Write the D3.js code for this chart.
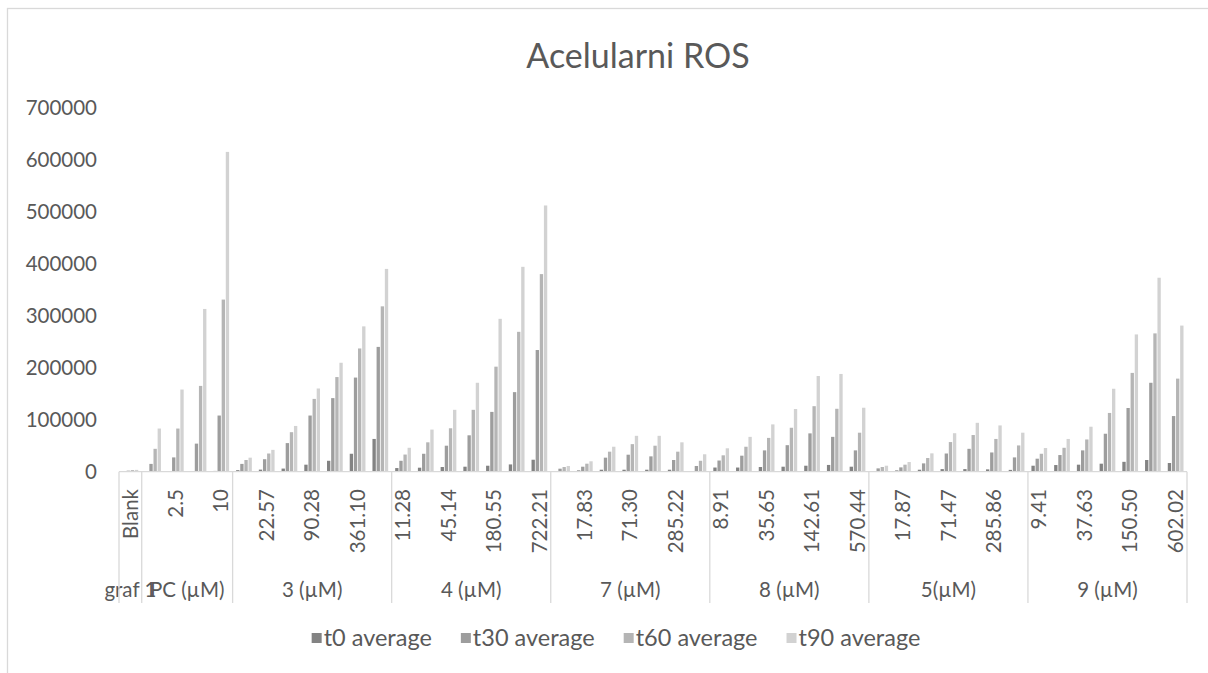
<!DOCTYPE html>
<html>
<head>
<meta charset="utf-8">
<script src="https://cdn.jsdelivr.net/npm/d3@7"></script>
<style>
  html, body { margin: 0; padding: 0; background: #fff; }
  svg { display: block; }
  text { font-family: Lato, "Open Sans", sans-serif; fill: #595959; }
</style>
</head>
<body>
<svg id="chart" width="1208" height="673"></svg>
<script>
// ---------------- data ----------------
const title = "Acelularni ROS";
const groupNames = ["graf 1", "PC (µM)", "3 (µM)", "4 (µM)", "7 (µM)", "8 (µM)", "5(µM)", "9 (µM)"];
const groupSizes = [1, 4, 7, 7, 7, 7, 7, 7];
const categories = [
  "Blank",
  "1.25", "2.5", "5", "10",
  "11.28", "22.57", "45.14", "90.28", "180.55", "361.10", "722.21",
  "11.28", "22.57", "45.14", "90.28", "180.55", "361.10", "722.21",
  "8.91", "17.83", "35.65", "71.30", "142.61", "285.22", "570.44",
  "8.91", "17.83", "35.65", "71.30", "142.61", "285.22", "570.44",
  "8.93", "17.87", "35.73", "71.47", "142.93", "285.86", "571.72",
  "9.41", "18.81", "37.63", "75.25", "150.50", "301.01", "602.02"
];
const seriesNames = ["t0 average", "t30 average", "t60 average", "t90 average"];
const t0 = [800, 500, 1000, 1000, 1500, 3000, 4000, 6000, 13500, 21000, 34500, 63000,
  7000, 7700, 9000, 9600, 11500, 14000, 23000,
  1200, 2500, 3800, 3800, 3800, 3800, 1300,
  8000, 8000, 9000, 9600, 11500, 13000, 9600,
  1300, 2500, 3800, 5000, 5000, 4500, 3500,
  11500, 12800, 13500, 15400, 19000, 22500, 16700];
const t30 = [2000, 15000, 27500, 54000, 108000, 15000, 24000, 55000, 108000, 141500, 181000, 240000,
  21000, 34500, 50000, 70000, 115000, 153000, 234000,
  5800, 9600, 27000, 32700, 29500, 22500, 11000,
  21500, 30800, 41000, 51000, 73700, 67000, 41000,
  6400, 8300, 16000, 35000, 44000, 37000, 27500,
  25000, 32000, 41000, 73000, 122500, 171000, 107000];
const t60 = [3000, 44000, 83000, 165000, 331000, 22500, 35000, 76000, 140000, 182000, 237000, 318000,
  33000, 56500, 83500, 119000, 202000, 269000, 380000,
  9000, 15400, 38500, 53000, 50000, 38500, 21000,
  31500, 48000, 65000, 84500, 126000, 121000, 75000,
  9000, 13500, 26300, 57000, 70500, 63000, 50500,
  34500, 46000, 62000, 113000, 190000, 266000, 179000];
const t90 = [3500, 83000, 158000, 313000, 615000, 27000, 42000, 88000, 160000, 209500, 279500, 390000,
  46000, 81000, 119000, 171000, 294000, 394000, 512000,
  11000, 20000, 48000, 69000, 69000, 56500, 33500,
  45000, 67000, 91000, 120500, 184000, 188000, 123000,
  11500, 18600, 35300, 74000, 94000, 89000, 75000,
  45500, 63000, 86500, 159500, 264000, 373000, 281000];
const yTicks = [0, 100000, 200000, 300000, 400000, 500000, 600000, 700000];
const colors = ["#838383", "#9d9d9d", "#b5b5b5", "#d2d2d2"];

// ---------------- layout ----------------
const svg = d3.select("#chart");
const plot = { left: 119, right: 1187, top: 107.7, bottom: 471.7 };
const fs = 20.5;
const legFs = 23.5;

svg.append("rect").attr("x", 7.5).attr("y", 8.5).attr("width", 1300).attr("height", 800)
  .attr("fill", "none").attr("stroke", "#d9d9d9").attr("stroke-width", 1.3);

svg.append("text").attr("x", 638).attr("y", 68).attr("text-anchor", "middle")
  .style("font-size", "34px").text(title);

const idx = d3.range(categories.length);
const x = d3.scaleBand().domain(idx).range([plot.left, plot.right])
  .paddingInner(1.5 / 5.5).paddingOuter(0.75 / 5.5);
const xs = d3.scaleBand().domain(d3.range(seriesNames.length)).range([0, x.bandwidth()]);
const y = d3.scaleLinear().domain([0, 700000]).range([plot.bottom, plot.top]);

// y axis (labels only)
const yAxis = d3.axisLeft(y).tickValues(yTicks).tickSize(0).tickPadding(0).tickFormat(d3.format("d"));
const yg = svg.append("g").attr("transform", `translate(97,0)`).call(yAxis);
yg.select(".domain").remove();
yg.selectAll("text").style("font-size", fs + "px").attr("fill", "#595959").attr("dy", "0.35em")
  .style("font-family", "Lato");

// bars
const series = [t0, t30, t60, t90];
series.forEach((vals, si) => {
  svg.append("g").selectAll("rect").data(vals).join("rect")
    .attr("x", (d, i) => x(i) + xs(si) + 0.4)
    .attr("width", xs.bandwidth() - 0.8)
    .attr("y", d => y(d))
    .attr("height", d => y(0) - y(d))
    .attr("fill", colors[si]);
});

// x axis line
svg.append("line").attr("x1", plot.left).attr("x2", plot.right)
  .attr("y1", plot.bottom).attr("y2", plot.bottom)
  .attr("stroke", "#d9d9d9").attr("stroke-width", 1.3);

// category labels (every other one shown, as in the original)
const catG = svg.append("g");
idx.filter(i => i % 2 === 0).forEach(i => {
  const cx = x(i) + x.bandwidth() / 2;
  catG.append("text")
    .attr("transform", `translate(${cx},489) rotate(-90)`)
    .attr("text-anchor", "end").attr("dy", "0.35em")
    .style("font-size", fs + "px").text(categories[i]);
});

// group dividers & labels
let start = 0;
const half = (x.step() - x.bandwidth()) / 2;
const bounds = [plot.left];
groupNames.forEach((g, gi) => {
  const end = start + groupSizes[gi];
  const x0 = x(start) - half;
  const x1 = x(end - 1) + x.bandwidth() + half;
  bounds.push(x1);
  svg.append("text").attr("x", (x0 + x1) / 2).attr("y", 597)
    .attr("text-anchor", "middle").style("font-size", fs + "px").text(g);
  start = end;
});
bounds.forEach(b => {
  svg.append("line").attr("x1", b).attr("x2", b).attr("y1", plot.bottom).attr("y2", 603)
    .attr("stroke", "#d9d9d9").attr("stroke-width", 1.3);
});

// legend
const leg = svg.append("g");
let lx = 0;
seriesNames.forEach((n, i) => {
  const it = leg.append("g").attr("transform", `translate(${lx},0)`);
  it.append("rect").attr("x", 0).attr("y", -5).attr("width", 10).attr("height", 10).attr("fill", colors[i]);
  const t = it.append("text").attr("x", 12).attr("dy", "0.35em").style("font-size", legFs + "px").text(n);
  lx += 12 + t.node().getComputedTextLength() + 29;
});
const legW = lx - 29;
leg.attr("transform", `translate(${616 - legW / 2},638)`);
</script>
</body>
</html>
